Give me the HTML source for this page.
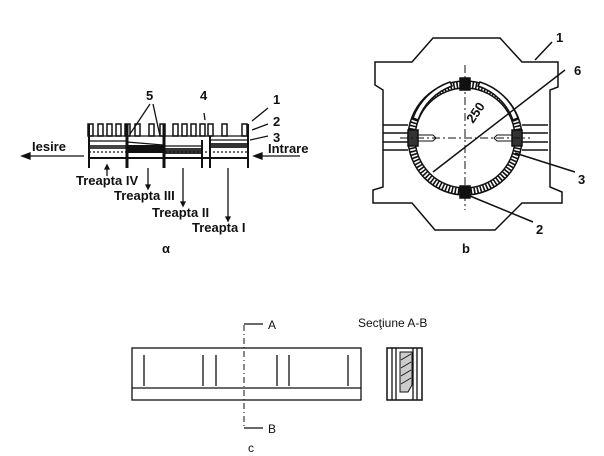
<!DOCTYPE html>
<html><head><style>body{margin:0;background:#fff}svg{display:block}text{font-family:"Liberation Sans",sans-serif;fill:#111}.b{font-weight:bold}</style></head><body>
<svg width="604" height="456" viewBox="0 0 604 456" stroke="#111" fill="none" stroke-width="1.3">
<g>
<g fill="#fff" stroke-width="1.5">
<rect x="88" y="124" width="5" height="12"/><rect x="98" y="124" width="5" height="12"/><rect x="107" y="124" width="5" height="12"/><rect x="116" y="124" width="5" height="12"/><rect x="125" y="124" width="5" height="12"/><rect x="135" y="124" width="5" height="12"/><rect x="149" y="124" width="5" height="12"/><rect x="160" y="124" width="5" height="12"/><rect x="173" y="124" width="5" height="12"/><rect x="182" y="124" width="5" height="12"/><rect x="191" y="124" width="5" height="12"/><rect x="200" y="124" width="5" height="12"/><rect x="208" y="124" width="5" height="12"/><rect x="222" y="124" width="5" height="12"/><rect x="242" y="124" width="5" height="12"/>
</g>
<line x1="89" y1="136" x2="248" y2="136"/>
<line x1="89" y1="158" x2="248" y2="158" stroke-width="2"/>
<line x1="89" y1="141" x2="127" y2="141"/><line x1="127" y1="142" x2="163" y2="145"/><line x1="163" y1="146" x2="202" y2="146"/><line x1="210" y1="140" x2="248" y2="140"/>
<rect x="127" y="145" width="36" height="8" fill="#111" stroke="none"/>
<rect x="163" y="148" width="39" height="6" fill="#333" stroke="none"/>
<rect x="89" y="145" width="38" height="4" fill="#444" stroke="none"/>
<rect x="210" y="143" width="38" height="5" fill="#333" stroke="none"/>
<line x1="89" y1="152" x2="248" y2="152" stroke-dasharray="2 2"/>
<g stroke-width="2"><line x1="89" y1="124" x2="89" y2="168"/><line x1="127" y1="124" x2="127" y2="168" stroke-width="3"/><line x1="164" y1="124" x2="164" y2="168" stroke-width="3"/><line x1="202" y1="140" x2="202" y2="168"/><line x1="210" y1="136" x2="210" y2="168"/><line x1="248" y1="124" x2="248" y2="168"/></g>
<line x1="84" y1="156" x2="24" y2="156"/><path d="M22 156 l8 -3 v6z" fill="#111"/>
<line x1="300" y1="156" x2="256" y2="156"/><path d="M254 156 l8 -3 v6z" fill="#111"/>
<line x1="107" y1="168" x2="107" y2="176"/><line x1="148" y1="168" x2="148" y2="188"/><line x1="183" y1="168" x2="183" y2="205"/><line x1="228" y1="168" x2="228" y2="220"/>
<path d="M107 165 l-2 4 h4z M148 189 l-2 -4 h4z M183 206 l-2 -4 h4z M228 221 l-2 -4 h4z" fill="#111"/>
<line x1="130" y1="134" x2="150" y2="104"/><line x1="160" y1="136" x2="153" y2="104"/>
<line x1="204" y1="113" x2="205" y2="120"/>
<line x1="252" y1="121" x2="268" y2="108"/><line x1="252" y1="130" x2="268" y2="124"/><line x1="250" y1="140" x2="268" y2="136"/>
<g font-size="13" class="b" stroke="none"><text x="146" y="100">5</text><text x="200" y="100">4</text><text x="273" y="104">1</text><text x="273" y="126">2</text><text x="273" y="142">3</text>
<text x="32" y="151">Iesire</text><text x="268" y="153">Intrare</text>
<text x="76" y="185">Treapta IV</text><text x="114" y="200">Treapta III</text><text x="152" y="217">Treapta II</text><text x="192" y="232">Treapta I</text>
<text x="162" y="253">α</text></g>
</g>
<g stroke-width="1.5">
<path d="M433 38 H500 L522 62 H558 V87 L550 90 V187 L562 192 V203 H522 L495 230 H435 L412 203 H373 V190 L383 187 V90 L375 85 V62 H412 Z"/>
<circle cx="465" cy="138" r="57"/><circle cx="465" cy="138" r="50"/>
<circle cx="465" cy="138" r="53.5" stroke-width="6" stroke-dasharray="1.6 1.6"/>
<path d="M413 118 A60 60 0 0 1 450 82 L452 86 A56 56 0 0 0 418 120Z M480 82 A60 60 0 0 1 518 118 L513 120 A56 56 0 0 0 478 86Z" fill="#fff"/>
<rect x="460" y="78" width="10" height="12" fill="#111"/><rect x="460" y="186" width="10" height="12" fill="#111"/>
<rect x="408" y="130" width="10" height="16" fill="#333"/><rect x="512" y="130" width="10" height="16" fill="#333"/>
<path d="M383 125 H408 M383 133 H408 M383 142 H408 M383 150 H408 M522 125 H548 M522 133 H548 M522 142 H548 M522 150 H548"/>
<path d="M418 135 h15 l3 3 l-3 3 h-15 M512 135 h-15 l-3 3 l3 3 h15" stroke-width="1"/>
<line x1="465" y1="65" x2="465" y2="210" stroke-width="1" stroke-dasharray="8 3 2 3"/>
<line x1="400" y1="138" x2="530" y2="138" stroke-width="1" stroke-dasharray="8 3 2 3"/>
<line x1="433" y1="172" x2="565" y2="70"/>
<line x1="515" y1="153" x2="575" y2="172"/><line x1="470" y1="196" x2="533" y2="222"/><line x1="535" y1="60" x2="552" y2="42"/>
<g font-size="13" class="b" stroke="none"><text x="556" y="42">1</text><text x="574" y="75">6</text><text x="578" y="184">3</text><text x="536" y="234">2</text><text x="462" y="253">b</text>
<text x="0" y="0" transform="translate(473 124) rotate(-55)">250</text></g>
</g>
<g>
<rect x="132" y="348" width="229" height="52"/><line x1="132" y1="388" x2="361" y2="388"/>
<path d="M144 355 V386 M203 355 V386 M216 355 V386 M277 355 V386 M289 355 V386 M348 355 V386"/>
<line x1="244" y1="325" x2="244" y2="428" stroke-width="1" stroke-dasharray="6 3 1 3"/>
<line x1="244" y1="324" x2="263" y2="324"/><line x1="244" y1="428" x2="263" y2="428"/>
<rect x="387" y="348" width="35" height="52" stroke-width="1.5"/>
<path d="M392 348 V400 M396 348 V400 M413 348 V400 M417 348 V400"/>
<path d="M400 352 H412 V385 L408 392 H400 Z" fill="#ccc" stroke-width="1"/>
<path d="M401 360 l10 -6 M401 368 l10 -6 M401 376 l10 -6 M401 384 l10 -6" stroke-width="0.8"/>
<g font-size="12" stroke="none"><text x="268" y="329">A</text><text x="268" y="433">B</text><text x="358" y="327">Secţiune A-B</text><text x="248" y="452">c</text></g>
</g>
</svg>
</body></html>
